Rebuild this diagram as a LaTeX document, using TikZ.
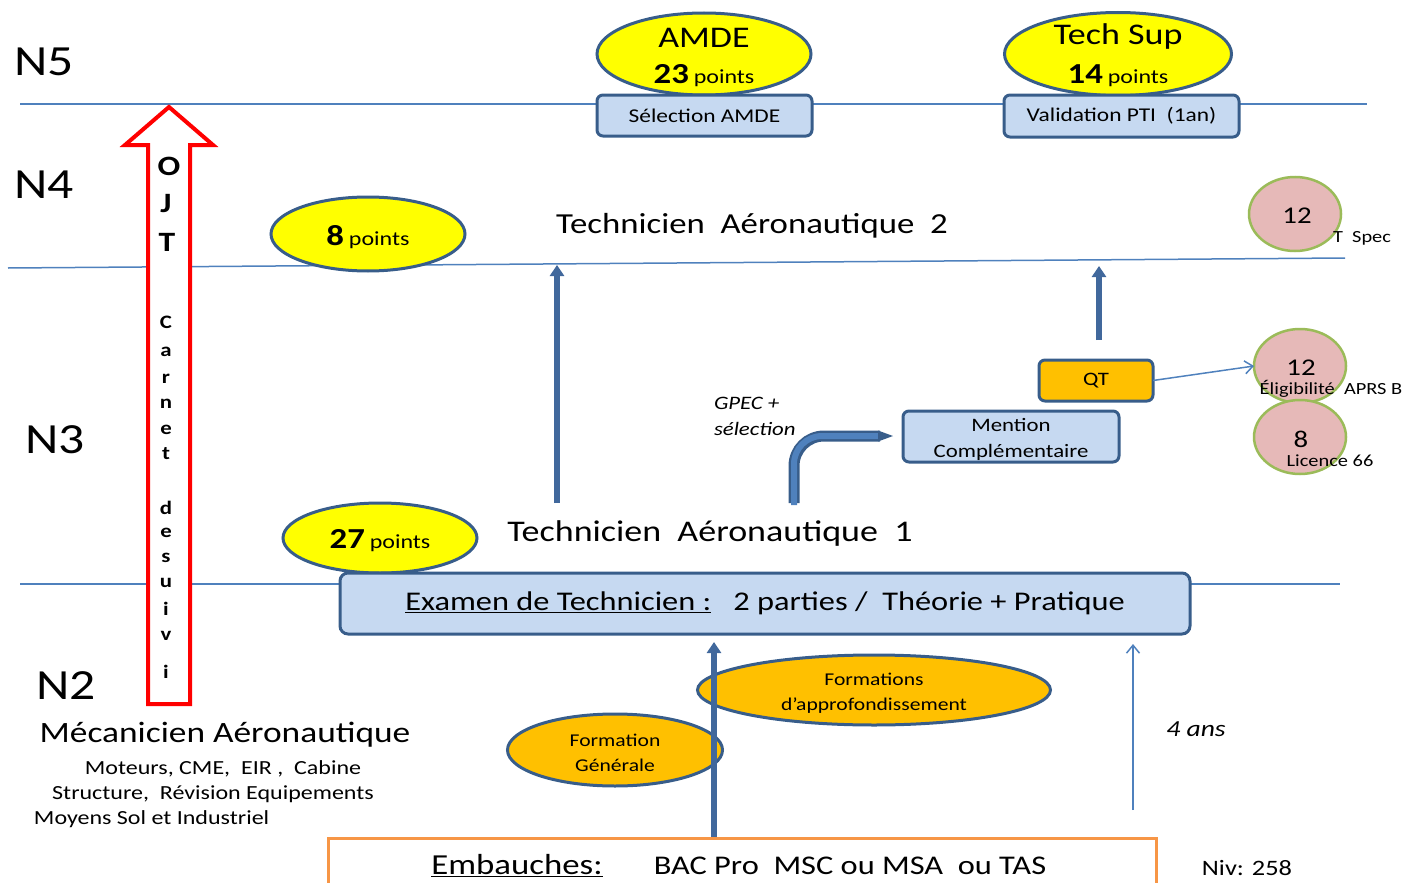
\documentclass[tikz,border=0pt]{standalone}
\usepackage{fontspec}
\setmainfont{Carlito}[FakeStretch=1.2]
\usetikzlibrary{arrows.meta,shapes.geometric}
\definecolor{lineblue}{HTML}{4F81BD}
\definecolor{darkblue}{HTML}{385D8A}
\definecolor{lightblue}{HTML}{C6D9F1}
\definecolor{yel}{HTML}{FFFF00}
\definecolor{orng}{HTML}{FFC000}
\definecolor{pinkc}{HTML}{E6B9B8}
\definecolor{greenc}{HTML}{9BBB59}
\definecolor{orangeb}{HTML}{F79646}
\definecolor{arrowblue}{HTML}{41689C}
\newcommand\fs[1]{\fontsize{#1}{#1}\selectfont}
\begin{document}
\begin{tikzpicture}[x=1pt,y=-1pt,
  every node/.style={inner sep=0pt,outer sep=0pt},
  level/.style={draw=lineblue,line width=1.5pt},
  lvlabel/.style={font=\fs{43}},
  bluebox/.style={rectangle,draw=darkblue,line width=3pt,fill=lightblue,rounded corners=6pt,align=center},
  yellowell/.style={ellipse,draw=darkblue,line width=3pt,fill=yel},
  orangeell/.style={ellipse,draw=darkblue,line width=3pt,fill=orng,align=center},
  pinkcirc/.style={ellipse,draw=greenc,line width=2.5pt,fill=pinkc,minimum width=92pt,minimum height=74pt},
  thickarrow/.style={draw=arrowblue,line width=6pt,-{Triangle[width=14pt,length=11pt]}},
  thinarrow/.style={draw=lineblue,line width=1.5pt,-{Straight Barb[width=13pt,length=8pt]}},
  ojtletter/.style={font=\fs{28}\bfseries},
  carnetletter/.style={font=\fs{19}\bfseries},
  twoline/.style={align=center,font=\fontsize{18}{25}\selectfont}
]
\useasboundingbox (0,0) rectangle (1406,883);

% level lines
\draw[level] (20,104) -- (1367,104);
\draw[level] (8,268) -- (1345,258);
\draw[level] (20,584) -- (1340,584);

% level labels
\node[lvlabel] (n5) at (44,62) {N5};
\node[lvlabel] (n4) at (44,185) {N4};
\node[lvlabel] (n3) at (55,440) {N3};
\node[lvlabel] (n2) at (66,686) {N2};

% OJT arrow
\draw[red,line width=4pt,fill=white,line join=miter]
  (148,704) -- (148,145) -- (125,145) -- (169,107) -- (213,145) -- (190,145) -- (190,704) -- cycle;
\node[ojtletter] (lO) at (169,166) {O};
\node[ojtletter] (lJ) at (166,204) {J};
\node[ojtletter] (lT) at (167,242) {T};
\foreach \ch/\yy [count=\i] in {C/322,a/352,r/379,n/404,e/430,t/454,d/508,e/533,s/558,u/583,i/609,v/636,i/672}
  \node[carnetletter] (cl\i) at (166,\yy) {\ch};

% N5 items
\node[yellowell,minimum width=214pt,minimum height=82pt] (amdeE) at (704,54) {};
\node[font=\fs{30}] (amdeT) at (704,38) {AMDE};
\node (amdeP) at (704,76) {\fs{29}\bfseries 23\,\mdseries\fs{20}points};
\node[yellowell,minimum width=227pt,minimum height=83pt] (techE) at (1118,54) {};
\node[font=\fs{30}] (techT) at (1118,37) {Tech Sup};
\node (techP) at (1118,76) {\fs{29}\bfseries 14\,\mdseries\fs{20}points};
\node[bluebox,minimum width=215pt,minimum height=41pt,font=\fs{19.5}] (selB) at (704.5,115.5) {\raisebox{-2pt}{Sélection AMDE}};
\node[bluebox,minimum width=235pt,minimum height=42pt,font=\fs{19.5}] (valB) at (1121.5,116) {\raisebox{-2pt}{Validation PTI\ \ (1an)}};

% N4 items
\node[yellowell,minimum width=194pt,minimum height=74pt] (e8) at (368,234) {};
\node (e8t) at (368,237) {\fs{29}\bfseries 8\,\mdseries\fs{20}points};
\node[font=\fs{29}] (ta2) at (752,226) {Technicien\ \ Aéronautique\ \ 2};
\node[pinkcirc] (c12a) at (1295,214) {};
\node[font=\fs{24}] (c12at) at (1297,216) {12};
\node[font=\fs{17},anchor=west] (tspec) at (1333,238) {T\ \ Spec};

% N3 items
\coordinate (ta1s) at (557,503);
\coordinate (ta1e) at (557,265);
\draw[thickarrow] (ta1s) -- (ta1e);
\coordinate (ta2s) at (1099,340);
\coordinate (ta2e) at (1099,266);
\draw[thickarrow] (ta2s) -- (ta2e);

\node[bluebox,minimum width=114pt,minimum height=41pt,fill=orng,font=\fs{19}] (qt) at (1096,380.5) {\raisebox{-2pt}{QT}};
\node[bluebox,minimum width=216pt,minimum height=51pt] (mention) at (1011,436.5) {};
\node[align=center,font=\fontsize{19}{26}\selectfont] (mentiont) at (1011,439.5) {Mention\\Complémentaire};

\node[pinkcirc] (c12b) at (1300,366) {};
\node[pinkcirc] (c8) at (1300,437) {};
\node[font=\fs{24}] (c12bt) at (1301,368) {12};
\node[font=\fs{17}] (elig) at (1331,389) {Éligibilité\ \ APRS B};
\node[font=\fs{24}] (c8t) at (1301,439) {8};
\node[font=\fs{17}] (lic) at (1330,461) {Licence 66};
\draw[thinarrow] (qt.east) -- (c12b.west);

\node[font=\itshape\fontsize{19}{26}\selectfont,align=left,anchor=north west] (gpec) at (714,397) {GPEC +\\sélection};

\coordinate (bendS) at (794,503);
\coordinate (bendE) at (893,436);
\draw[darkblue,line width=11pt,rounded corners=30pt] (bendS) |- (880,436);
\draw[lineblue,line width=6pt,rounded corners=28pt] ([yshift=-2pt]bendS) |- (880,436);
\fill[darkblue] (878,430.5) -- (bendE) -- (878,441.5) -- cycle;

% N2/N3 items
\node[yellowell,minimum width=194pt,minimum height=70pt] (e27) at (380,538) {};
\node (e27t) at (380,541) {\fs{29}\bfseries 27\,\mdseries\fs{20}points};
\node[font=\fs{30}] (ta1) at (710,533) {Technicien\ \ Aéronautique\ \ 1};
\node[bluebox,minimum width=850pt,minimum height=61pt,rounded corners=8pt,font=\fs{27}] (exam) at (765,603.5)
  {\raisebox{-3pt}{\underline{Examen de Technicien :}\hspace{22pt}2 parties /\ \ Théorie + Pratique}};

% N2 items
\node[orangeell,minimum width=353pt,minimum height=70pt] (fapp) at (874,690) {};
\node[twoline] (fappt) at (874,693) {Formations\\d’approfondissement};
\node[orangeell,minimum width=215pt,minimum height=72pt] (fgen) at (615,750) {};
\node[twoline] (fgent) at (615,753) {Formation\\Générale};

\coordinate (ba1s) at (714,838);
\coordinate (ba1e) at (714,642);
\draw[thickarrow] (ba1s) -- (ba1e);
\coordinate (ba2s) at (1133,810);
\coordinate (ba2e) at (1133,644);
\draw[thinarrow] (ba2s) -- (ba2e);
\node[font=\itshape\fs{23}] (ans) at (1196,729) {4 ans};

\node[font=\fs{29.5}] (meca) at (225,735) {Mécanicien Aéronautique};
\node[font=\fs{20}] (mot) at (223,769) {Moteurs, CME,\ \ EIR ,\ \ Cabine};
\node[font=\fs{20}] (struct) at (213,794) {Structure,\ \ Révision Equipements};
\node[font=\fs{20},anchor=west] (moy) at (34,819) {Moyens Sol et Industriel};

% Embauches
\draw[orangeb,line width=3pt] (328,890) |- (1156,838) -- (1156,890);
\node[font=\fs{29}] (emb) at (517,866) {\underline{Embauches:}};
\node[font=\fs{27}] (bac) at (850,866) {BAC Pro\ \ MSC ou MSA\ \ ou TAS};
\node[font=\fs{22}] (niv) at (1247,868) {Niv: 258};
\end{tikzpicture}
\end{document}
